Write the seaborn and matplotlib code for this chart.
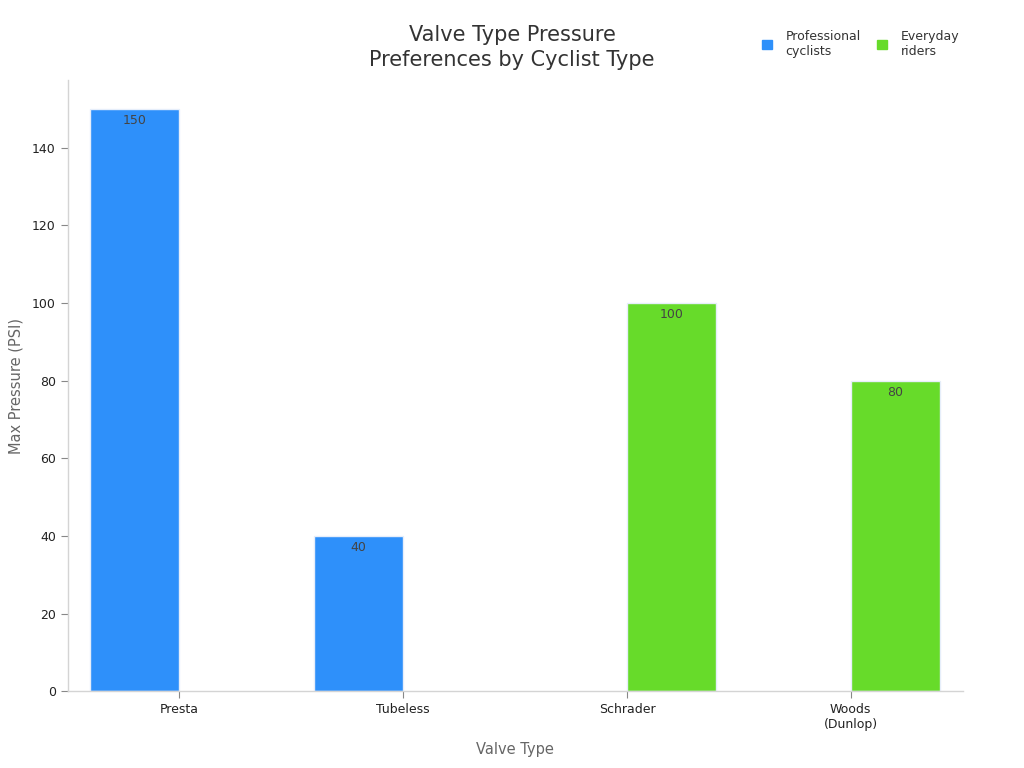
import numpy as np
import pandas as pd
import matplotlib
matplotlib.use("Agg")
import matplotlib.pyplot as plt
import seaborn as sns

# chart data
valve_types = ["Presta", "Tubeless", "Schrader", "Woods\n(Dunlop)"]
cyclist_groups = ["Professional\ncyclists", "Professional\ncyclists", "Everyday\nriders", "Everyday\nriders"]
max_psi = [150, 40, 100, 80]
group_order = ["Professional\ncyclists", "Everyday\nriders"]
group_colors = ["#2e90fa", "#67db2a"]

df = pd.DataFrame({"valve": valve_types, "group": cyclist_groups, "psi": max_psi})

sns.set_theme(style="white")
plt.rcParams['font.family'] = ['DejaVu Sans']

fig = plt.figure(figsize=(10.24, 7.68), dpi=100)
ax = fig.add_axes([0.066, 0.100, 0.874, 0.796])

sns.barplot(data=df, x="valve", y="psi", hue="group", order=valve_types,
            hue_order=group_order, palette=group_colors, width=0.8, dodge=True,
            saturation=1, edgecolor="#e6eefa", linewidth=1, legend=False, ax=ax)

for cont in ax.containers:
    ax.bar_label(cont, fmt="%g", padding=-13, fontsize=9, color="#444444")

ax.set_ylim(0, 157.5)
ax.set_yticks(np.arange(0, 141, 20))
ax.set_xlim(-0.5, 3.5)

for side in ["top", "right"]:
    ax.spines[side].set_visible(False)
for side in ["left", "bottom"]:
    ax.spines[side].set_color("#d4d4d4")
    ax.spines[side].set_linewidth(1)

ax.tick_params(axis="both", labelsize=9, colors="#222222", length=5, width=0.8,
               color="#888888", left=True, bottom=True)
ax.set_xlabel("Valve Type", fontsize=10.5, color="#666666", labelpad=8)
ax.set_ylabel("Max Pressure (PSI)", fontsize=10.5, color="#666666", labelpad=6)

fig.suptitle("Valve Type Pressure\nPreferences by Cyclist Type", x=0.5, y=0.967,
             fontsize=15, color="#333333", linespacing=1.3)

handles = [plt.Rectangle((0, 0), 1, 1, color=c) for c in group_colors]
fig.legend(handles, group_order, loc="upper right", bbox_to_anchor=(0.948, 0.976),
           ncol=2, frameon=False, fontsize=9, handlelength=0.8, handleheight=0.8,
           columnspacing=1.3, handletextpad=1.1, labelcolor="#333333")

fig.savefig("out.png", dpi=100)
